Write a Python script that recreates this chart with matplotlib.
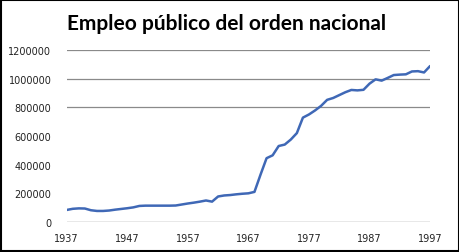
import numpy as np
import matplotlib
matplotlib.use("Agg")
from matplotlib import pyplot as plt
from matplotlib.patches import Rectangle

# empleo publico del orden nacional, 1937-1997
years = list(range(1937, 1998))
empleo = [84000, 92000, 95000, 94000, 82000, 77000, 77000, 80000, 86000, 91000,
          96000, 102000, 112000, 114000, 114000, 114000, 114000, 114000, 115000, 122000,
          129000, 135000, 142000, 150000, 142000, 178000, 185000, 188000, 193000, 197000,
          200000, 210000, 330000, 445000, 465000, 530000, 540000, 575000, 620000, 728000,
          750000, 778000, 810000, 852000, 865000, 885000, 905000, 921000, 918000, 922000,
          965000, 995000, 986000, 1005000, 1025000, 1028000, 1030000, 1050000, 1052000, 1043000,
          1088000]
xlabels = [1937, 1947, 1957, 1967, 1977, 1987, 1997]
ylabels = [0, 200000, 400000, 600000, 800000, 1000000, 1200000]
grid_at = [800000, 1000000, 1200000]

fig = plt.figure(figsize=(4.6, 2.53), dpi=100)
ax = fig.add_axes([0.145, 0.1186, 0.79, 0.68])

ax.plot(years, empleo, color='#3f68b6', lw=1.8, solid_capstyle='round')
for g in grid_at:
    ax.axhline(g, color='#8a8a8a', lw=0.9, zorder=0)
ax.axhline(0, color='#8a8a8a', lw=1.0, zorder=0)

ax.set_xlim(1937, 1997)
ax.set_ylim(0, 1200000)
ax.set_xticks(xlabels)
ax.set_xticklabels([str(y) for y in xlabels])
ax.set_yticks(ylabels)
ax.set_yticklabels([str(v) for v in ylabels])
ax.tick_params(length=0, labelsize=7, colors='#222222')
ax.tick_params(axis='y', pad=11)
ax.tick_params(axis='x', pad=8)
for s in ax.spines.values():
    s.set_visible(False)

fig.text(0.493, 0.905, 'Empleo público del orden nacional', ha='center', va='center',
         fontsize=15, fontweight='bold', family=['Lato', 'DejaVu Sans'])

fig.patches.append(Rectangle((0.003, 0.004), 0.994, 0.992, transform=fig.transFigure,
                             fill=False, edgecolor='black', lw=1.5))

fig.savefig('out.png', dpi=100)
